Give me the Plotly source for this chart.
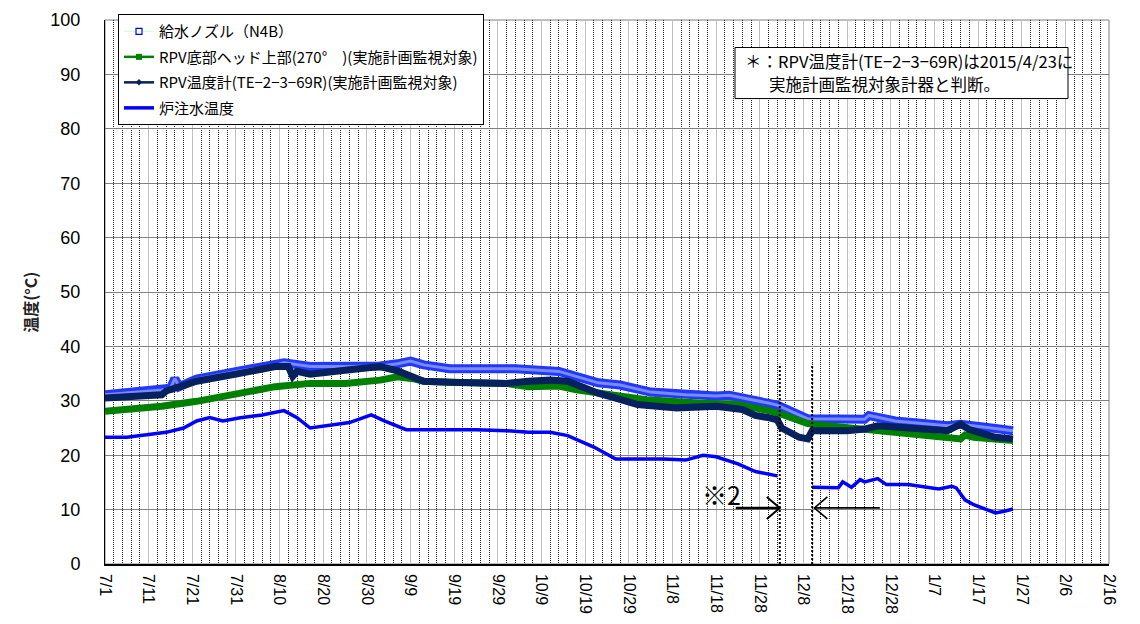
import datetime as dt
import plotly.graph_objects as go

# ---- data -------------------------------------------------------------
# 給水ノズル(N4B)
feed_dates = ["2015-07-01", "2015-07-14", "2015-07-16", "2015-07-17", "2015-07-18",
              "2015-07-22", "2015-07-31", "2015-08-09", "2015-08-11", "2015-08-17",
              "2015-08-25", "2015-09-02", "2015-09-06", "2015-09-09", "2015-09-12",
              "2015-09-18", "2015-10-03", "2015-10-13", "2015-10-22", "2015-10-27",
              "2015-11-03", "2015-11-11", "2015-11-18", "2015-11-21", "2015-11-30",
              "2015-12-02", "2015-12-09", "2015-12-22", "2015-12-23", "2015-12-29",
              "2016-01-10", "2016-01-13", "2016-01-21", "2016-01-25"]
feed_vals = [31.1, 32.0, 32.3, 34.1, 32.6,
             34.0, 35.4, 36.5, 37.0, 36.3,
             36.3, 36.4, 36.8, 37.3, 36.6,
             35.9, 35.9, 35.4, 33.3, 32.9,
             31.6, 31.1, 30.9, 31.0, 29.6,
             29.2, 26.7, 26.6, 27.3, 26.3,
             25.4, 25.7, 24.9, 24.5]

# RPV底部ヘッド上部(270°)
head_dates = ["2015-07-01", "2015-07-14", "2015-07-22", "2015-07-31", "2015-08-09",
              "2015-08-17", "2015-08-25", "2015-09-02", "2015-09-06", "2015-09-10",
              "2015-09-12", "2015-09-18", "2015-10-01", "2015-10-06", "2015-10-13",
              "2015-10-17", "2015-10-26", "2015-11-02", "2015-11-14", "2015-11-23",
              "2015-11-30", "2015-12-02", "2015-12-09", "2015-12-22", "2015-12-29",
              "2016-01-10", "2016-01-13", "2016-01-14", "2016-01-16", "2016-01-25"]
head_vals = [28.1, 29.0, 29.9, 31.1, 32.6,
             33.2, 33.2, 33.8, 34.4, 34.0,
             33.6, 33.4, 33.2, 32.6, 32.7,
             32.0, 31.1, 30.2, 29.6, 29.3,
             28.2, 27.8, 25.8, 24.7, 24.2,
             23.3, 23.0, 23.7, 23.3, 22.7]

# RPV温度計(TE-2-3-69R)
te_dates = ["2015-07-01", "2015-07-14", "2015-07-15", "2015-07-22", "2015-07-31",
            "2015-08-09", "2015-08-12", "2015-08-13", "2015-08-14", "2015-08-17",
            "2015-08-25", "2015-09-02", "2015-09-06", "2015-09-09", "2015-09-12",
            "2015-09-18", "2015-10-01", "2015-10-06", "2015-10-11", "2015-10-15",
            "2015-10-22", "2015-10-26", "2015-10-31", "2015-11-09", "2015-11-18",
            "2015-11-24", "2015-11-27", "2015-11-30", "2015-12-02", "2015-12-03",
            "2015-12-07", "2015-12-09", "2015-12-10", "2015-12-18", "2015-12-22",
            "2015-12-25", "2015-12-29", "2016-01-10", "2016-01-13", "2016-01-15",
            "2016-01-21", "2016-01-25"]
te_vals = [30.5, 31.1, 31.8, 33.6, 34.9,
           36.3, 36.3, 34.5, 35.4, 34.9,
           35.6, 36.3, 35.5, 34.5, 33.6,
           33.4, 33.2, 33.6, 33.8, 33.6,
           31.4, 30.5, 29.3, 28.7, 29.0,
           28.4, 27.3, 26.9, 26.5, 25.0,
           23.3, 23.0, 24.5, 24.5, 24.8,
           25.4, 25.1, 24.5, 25.7, 24.7,
           23.3, 23.0]

# 炉注水温度 (None = 欠測区間)
inj_dates = ["2015-07-01", "2015-07-06", "2015-07-11", "2015-07-15", "2015-07-19",
             "2015-07-22", "2015-07-25", "2015-07-28", "2015-08-01", "2015-08-06",
             "2015-08-11", "2015-08-14", "2015-08-17", "2015-08-21", "2015-08-26",
             "2015-08-31", "2015-09-03", "2015-09-08", "2015-09-15", "2015-09-24",
             "2015-10-01", "2015-10-06", "2015-10-11", "2015-10-15", "2015-10-21",
             "2015-10-26", "2015-10-31", "2015-11-06", "2015-11-11", "2015-11-15",
             "2015-11-18", "2015-11-23", "2015-11-27", "2015-12-02", "2015-12-06",
             "2015-12-10", "2015-12-16", "2015-12-17", "2015-12-19", "2015-12-21",
             "2015-12-22", "2015-12-25", "2015-12-27", "2016-01-01", "2016-01-05",
             "2016-01-08", "2016-01-11", "2016-01-12", "2016-01-14", "2016-01-16",
             "2016-01-19", "2016-01-21", "2016-01-23", "2016-01-25"]
inj_vals = [23.3, 23.3, 23.8, 24.2, 25.0,
            26.3, 26.9, 26.3, 26.9, 27.4,
            28.2, 26.9, 25.0, 25.5, 26.0,
            27.4, 26.3, 24.7, 24.7, 24.7,
            24.5, 24.2, 24.2, 23.6, 21.5,
            19.3, 19.3, 19.3, 19.1, 20.0,
            19.7, 18.4, 17.0, 16.2, None,
            14.1, 14.0, 15.1, 14.1, 15.5,
            15.1, 15.7, 14.6, 14.6, 14.2,
            13.8, 14.3, 14.0, 11.8, 10.9,
            10.0, 9.4, 9.7, 10.1]

names = ["給水ノズル（N4B）",
         "RPV底部ヘッド上部(270°　)(実施計画監視対象)",
         "RPV温度計(TE−2−3−69R)(実施計画監視対象)",
         "炉注水温度"]

x_start, x_end = "2015-07-01", "2016-02-16"
y_range = [0, 100]

# ---- layout helpers (pixel -> paper) ------------------------------------
W, H = 1140, 624
L, R, T, B = 105, 1109, 10, 564


def px(x):
    return (x - L) / (R - L)


def py(y):
    return (B - y) / (B - T)


# 2-day minor grid positions (the 10-day ones carry the major grid)
d0 = dt.date.fromisoformat(x_start)
d1 = dt.date.fromisoformat(x_end)
minor_vals = []
k = 0
while d0 + dt.timedelta(days=k) <= d1:
    if k % 10:
        minor_vals.append((d0 + dt.timedelta(days=k)).isoformat())
    k += 2

JP = "Noto Sans CJK JP"
NUM = "Liberation Sans, Arial"

fig = go.Figure()

# 給水ノズル: band of hollow squares
fig.add_trace(go.Scatter(x=feed_dates, y=feed_vals, mode="lines",
                         line=dict(color="#2238FF", width=9),
                         legendgroup="g1", showlegend=False, hoverinfo="skip"))
fig.add_trace(go.Scatter(x=feed_dates, y=feed_vals, mode="lines",
                         line=dict(color="#7A8BFF", width=3),
                         legendgroup="g1", showlegend=False, hoverinfo="skip"))
fig.add_trace(go.Scatter(x=head_dates, y=head_vals, mode="lines",
                         line=dict(color="#008000", width=7),
                         legendgroup="g2", showlegend=False))
fig.add_trace(go.Scatter(x=te_dates, y=te_vals, mode="lines",
                         line=dict(color="#06215E", width=7),
                         legendgroup="g3", showlegend=False))
fig.add_trace(go.Scatter(x=inj_dates, y=inj_vals, mode="lines", connectgaps=False,
                         line=dict(color="#0000FF", width=3.5),
                         legendgroup="g4", showlegend=False))

# legend entries
fig.add_trace(go.Scatter(x=[None], y=[None], mode="lines+markers", name=names[0],
                         legendgroup="g1",
                         line=dict(color="#CCFFCC", width=1),
                         marker=dict(symbol="square", size=6, color="#FFFFFF",
                                     line=dict(color="#0000FF", width=1.2))))
fig.add_trace(go.Scatter(x=[None], y=[None], mode="lines+markers", name=names[1],
                         legendgroup="g2",
                         line=dict(color="#008000", width=2.5),
                         marker=dict(symbol="square", size=6, color="#008000")))
fig.add_trace(go.Scatter(x=[None], y=[None], mode="lines+markers", name=names[2],
                         legendgroup="g3",
                         line=dict(color="#06215E", width=2.5),
                         marker=dict(symbol="diamond", size=5, color="#06215E")))
fig.add_trace(go.Scatter(x=[None], y=[None], mode="lines", name=names[3],
                         legendgroup="g4",
                         line=dict(color="#0000FF", width=3.5)))

# ---- marker lines for the ※2 period ------------------------------------
gap_start = "2015-12-02 14:00"
gap_end = "2015-12-10 00:00"
for xd in (gap_start, gap_end):
    fig.add_shape(type="line", xref="x", yref="y", x0=xd, x1=xd, y0=0, y1=36.8,
                  line=dict(color="black", width=2, dash="2px,2px"))

arrow_y = 10.3
fig.add_shape(type="line", xref="x", yref="y", x0="2015-11-22 12:00", x1=gap_start,
              y0=arrow_y, y1=arrow_y, line=dict(color="black", width=2.5))
fig.add_shape(type="line", xref="x", yref="y", x0="2015-12-25 12:00", x1="2015-12-10 12:00",
              y0=arrow_y, y1=arrow_y, line=dict(color="black", width=1.8))
fig.add_shape(type="path", xref="x", yref="y", xsizemode="pixel", ysizemode="pixel",
              xanchor=gap_start, yanchor=arrow_y, path="M -13,11 L 0,0 L -13,-11",
              line=dict(color="black", width=2))
fig.add_shape(type="path", xref="x", yref="y", xsizemode="pixel", ysizemode="pixel",
              xanchor="2015-12-10 12:00", yanchor=arrow_y, path="M 13,11 L 0,0 L 13,-11",
              line=dict(color="black", width=1.6))

fig.add_annotation(x="2015-11-19 08:00", y=12.9, xref="x", yref="y", text="※2",
                   showarrow=False, font=dict(family=JP, size=25, color="black"))

# ---- note box -----------------------------------------------------------
fig.add_shape(type="rect", xref="paper", yref="paper",
              x0=px(735), x1=px(1068), y0=py(90), y1=py(38),
              line=dict(color="black", width=1), fillcolor="white", layer="above")
fig.add_annotation(x=px(743), y=py(52), xref="paper", yref="paper",
                   xanchor="left", yanchor="middle", showarrow=False,
                   text="＊：RPV温度計(TE−2−3−69R)は2015/4/23に",
                   font=dict(family=JP, size=16.5, color="black"))
fig.add_annotation(x=px(767), y=py(75), xref="paper", yref="paper",
                   xanchor="left", yanchor="middle", showarrow=False,
                   text="実施計画監視対象計器と判断。",
                   font=dict(family=JP, size=16.5, color="black"))

# y-axis title
fig.add_annotation(x=px(30), y=py(298), xref="paper", yref="paper",
                   xanchor="center", yanchor="middle",
                   textangle=-90, showarrow=False, text="<b>温度(°C)</b>",
                   font=dict(family=JP, size=16, color="#222222"))

# plot-area frame
fig.add_shape(type="rect", xref="paper", yref="paper", x0=0, x1=1, y0=0, y1=1,
              line=dict(color="#808080", width=1), layer="below")

fig.update_layout(
    width=W, height=H,
    margin=dict(l=L, r=W - R, t=T, b=H - B),
    paper_bgcolor="white", plot_bgcolor="white",
    showlegend=True,
    legend=dict(x=px(118), y=py(4), xanchor="left", yanchor="top",
                bgcolor="white", bordercolor="black", borderwidth=1,
                font=dict(family=JP, size=15, color="black"),
                traceorder="grouped", tracegroupgap=3),
    xaxis=dict(type="date", range=[x_start, x_end],
               tick0=x_start, dtick=10 * 86400000, tickformat="%-m/%-d",
               tickangle=90, tickfont=dict(family=NUM, size=16, color="black"),
               ticklabelstandoff=5,
               showgrid=True, gridcolor="#C0C0C0", gridwidth=1,
               minor=dict(tickmode="array", tickvals=minor_vals, showgrid=True,
                          gridcolor="#222222", griddash="1px,1px", gridwidth=1),
               showline=True, linecolor="black", linewidth=1.5,
               ticks="", zeroline=False),
    yaxis=dict(range=y_range, dtick=10, tick0=0,
               tickfont=dict(family=NUM, size=18, color="black"),
               ticklabelstandoff=20,
               showgrid=True, gridcolor="#808080", gridwidth=1,
               showline=True, linecolor="black", linewidth=1,
               ticks="", zeroline=False),
)

fig.write_html("out.html")
